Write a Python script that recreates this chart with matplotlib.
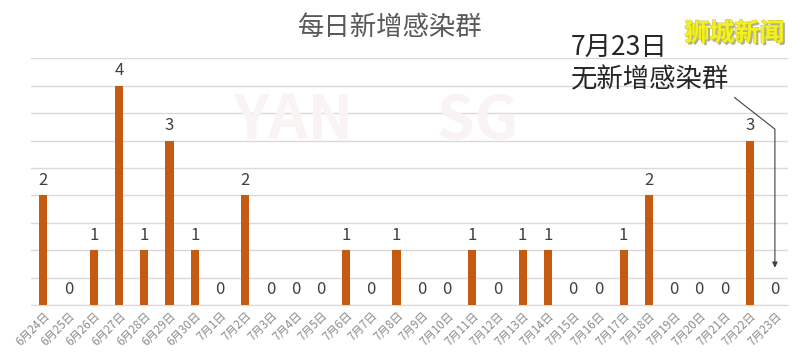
import matplotlib.pyplot as plt
import matplotlib.patheffects as pe

plt.rcParams['font.family'] = ['Noto Sans CJK SC', 'DejaVu Sans']

# 数据
dates = ['6月24日', '6月25日', '6月26日', '6月27日', '6月28日', '6月29日', '6月30日',
         '7月1日', '7月2日', '7月3日', '7月4日', '7月5日', '7月6日', '7月7日', '7月8日',
         '7月9日', '7月10日', '7月11日', '7月12日', '7月13日', '7月14日', '7月15日',
         '7月16日', '7月17日', '7月18日', '7月19日', '7月20日', '7月21日', '7月22日', '7月23日']
clusters = [2, 0, 1, 4, 1, 3, 1, 0, 2, 0, 0, 0, 1, 0, 1,
            0, 0, 1, 0, 1, 1, 0, 0, 1, 2, 0, 0, 0, 3, 0]

title = '每日新增感染群'
note_date = '7月23日'
note_msg = '无新增感染群'
brand = '狮城新闻'

fig = plt.figure(figsize=(8, 3.56), dpi=100)
ax = fig.add_axes([0.0384, 0.1433, 0.946, 0.6927])

x = range(len(dates))
bars = ax.bar(x, clusters, width=0.32, color='#C55A11', zorder=3)

# 柱顶数字
for xi, v in zip(x, clusters):
    ax.text(xi, v + 0.12, str(v), ha='center', va='bottom', fontsize=12,
            color='#404040', zorder=4)

ax.set_xlim(-0.5, len(dates) - 0.5)
ax.set_ylim(0, 4.5)
ax.set_yticks([i * 0.5 for i in range(10)])
ax.yaxis.grid(True, color='#d9d9d9', linewidth=1.0, zorder=0)
ax.tick_params(axis='y', left=False, labelleft=False)
ax.tick_params(axis='x', length=0, pad=3)
ax.set_xticks(list(x))
ax.set_xticklabels(dates, rotation=45, ha='right', rotation_mode='anchor',
                   fontsize=8.3, color='#8c8c8c')
for s in ['top', 'right', 'left']:
    ax.spines[s].set_visible(False)
ax.spines['bottom'].set_color('#d9d9d9')

# 水印
fig.text(0.47, 0.66, 'YAN      SG', fontsize=44, color='#faf3f3', ha='center',
         va='center', fontweight='bold', zorder=0)

# 标题
fig.text(0.488, 0.922, title, fontsize=19, color='#595959', ha='center', va='center')

# 注释 + 箭头
fig.text(0.714, 0.865, note_date, fontsize=19, color='#262626', ha='left', va='center')
ax.annotate(note_msg, xy=(len(dates) - 1, 0.68), xycoords='data',
            xytext=(0.714, 0.775), textcoords='figure fraction',
            fontsize=19, color='#262626', ha='left', va='center',
            arrowprops=dict(arrowstyle='-|>', color='#404040', lw=0.8,
                            mutation_scale=8, relpos=(1.0, 0.0), shrinkA=2, shrinkB=0,
                            connectionstyle='angle,angleA=-38,angleB=90,rad=0'))

# 右上角标志
fig.text(0.918, 0.905, brand, fontsize=18, color='#f5f020', ha='center', va='center',
         fontweight='bold',
         path_effects=[pe.withSimplePatchShadow(offset=(1.5, -1.5), shadow_rgbFace='#8a8a70', alpha=0.7),
                       pe.Stroke(linewidth=0.6, foreground='#c0c040'), pe.Normal()])

fig.savefig('out.png', dpi=100)
